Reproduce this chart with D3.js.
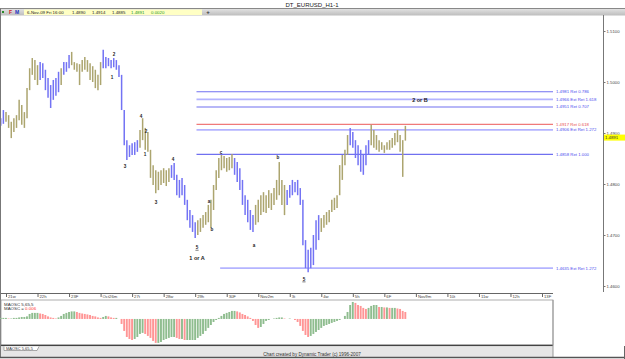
<!DOCTYPE html>
<html><head><meta charset="utf-8">
<script src="https://cdn.jsdelivr.net/npm/d3@7"></script>
<style>
body{margin:0;background:#fff}
svg{display:block}
text{font-family:"Liberation Sans",Arial,sans-serif}
</style>
</head><body><svg id="c" width="625" height="359"></svg>
<script>
// ---------------- DATA ----------------
const chartTitle = "DT_EURUSD_H1-1";
const quoteFields = ["6-Nov-09 Fri 16:00","1.4890","1.4914","1.4885","1.4891","0.0020"];
const dayLabels = ["21w","22h","23F","Oct26m","27t","28w","29h","30F","Nov2m","3t","4w","5h","6F","Nov9m","10t","11w","12h","13F"];
const priceTicks = [1.46,1.47,1.48,1.49,1.50,1.51];
const lastPrice = 1.4891;
const barStartHour = -4, barStepHours = 2;   // trading hours since 21-Oct 00:00
const highs = [
1.4929,1.4945,1.4941,1.4935,1.4922,1.4929,1.4935,1.4965,1.4955,1.4941,
1.4988,1.5027,1.5047,1.5043,1.5033,1.5039,1.5037,1.5024,1.5008,1.4994,
1.5004,1.5008,1.5020,1.5027,1.5039,1.5039,1.5053,1.5059,1.5039,1.5037,
1.5035,1.5043,1.5049,1.5043,1.5037,1.5031,1.5024,1.5014,1.5039,1.5063,
1.5049,1.5047,1.5043,1.5047,1.5043,1.5033,1.5014,1.4945,1.4886,1.4876,
1.4880,1.4882,1.4886,1.4906,1.4929,1.4910,1.4902,1.4867,1.4837,1.4827,
1.4824,1.4827,1.4831,1.4827,1.4831,1.4837,1.4841,1.4818,1.4808,1.4812,
1.4798,1.4769,1.4749,1.4739,1.4725,1.4729,1.4733,1.4739,1.4745,1.4759,
1.4769,1.4798,1.4827,1.4851,1.4857,1.4855,1.4851,1.4853,1.4859,1.4851,
1.4843,1.4831,1.4808,1.4778,1.4769,1.4749,1.4739,1.4759,1.4769,1.4778,
1.4784,1.4778,1.4788,1.4782,1.4792,1.4808,1.4843,1.4808,1.4798,1.4788,
1.4798,1.4808,1.4804,1.4808,1.4792,1.4769,1.4690,1.4671,1.4675,1.4700,
1.4729,1.4739,1.4733,1.4739,1.4745,1.4749,1.4769,1.4773,1.4778,1.4837,
1.4857,1.4867,1.4896,1.4910,1.4902,1.4886,1.4876,1.4867,1.4857,1.4876,
1.4886,1.4916,1.4906,1.4896,1.4886,1.4882,1.4876,1.4882,1.4886,1.4890,
1.4900,1.4906,1.4896,1.4886,1.4914];
const lows = [
1.4914,1.4918,1.4922,1.4910,1.4890,1.4902,1.4910,1.4925,1.4916,1.4910,
1.4929,1.4984,1.5014,1.5004,1.4994,1.5004,1.5008,1.4984,1.4969,1.4949,
1.4965,1.4973,1.4980,1.4994,1.5014,1.5020,1.5027,1.5033,1.5024,1.5020,
1.4994,1.5020,1.5024,1.5020,1.5004,1.5000,1.4988,1.4984,1.4994,1.5027,
1.5027,1.5031,1.5027,1.5029,1.5024,1.5010,1.4945,1.4876,1.4847,1.4853,
1.4857,1.4857,1.4863,1.4871,1.4886,1.4867,1.4863,1.4812,1.4798,1.4782,
1.4788,1.4798,1.4802,1.4796,1.4804,1.4812,1.4808,1.4778,1.4773,1.4778,
1.4759,1.4729,1.4714,1.4706,1.4694,1.4700,1.4706,1.4714,1.4720,1.4725,
1.4714,1.4749,1.4788,1.4812,1.4827,1.4831,1.4824,1.4827,1.4831,1.4818,
1.4804,1.4788,1.4759,1.4739,1.4725,1.4710,1.4706,1.4720,1.4725,1.4739,
1.4745,1.4743,1.4753,1.4749,1.4759,1.4769,1.4778,1.4759,1.4739,1.4759,
1.4773,1.4778,1.4784,1.4778,1.4759,1.4680,1.4635,1.4627,1.4635,1.4641,
1.4671,1.4690,1.4706,1.4714,1.4720,1.4725,1.4745,1.4749,1.4753,1.4778,
1.4808,1.4837,1.4857,1.4876,1.4871,1.4851,1.4837,1.4824,1.4818,1.4837,
1.4857,1.4876,1.4871,1.4867,1.4863,1.4867,1.4861,1.4867,1.4867,1.4871,
1.4876,1.4882,1.4863,1.4814,1.4885];
// trend of each bar: B = down-trend (blue), O = up-trend (olive), as runs
const trendRuns = [["B",2],["O",13],["B",8],["O",1],["B",3],["O",12],["B",14],["O",12],
  ["B",10],["O",14],["B",8],["O",12],["B",13],["O",11],["B",8],["O",14]];
const oscName = "MAOSC 5,65,5";
const oscLast = "0.006";
const oscValues = [
0.0009,0.0009,0.0009,0.0004,0.0004,0.0009,0.0009,0.0013,0.0017,0.0017,
0.0022,0.0043,0.0052,0.0052,0.0052,0.0047,0.0043,0.0034,0.0022,0.0013,
0.0009,0.0004,0.0013,0.0026,0.0043,0.0052,0.0060,0.0065,0.0065,0.0060,
0.0052,0.0047,0.0043,0.0039,0.0034,0.0026,0.0022,0.0013,0.0009,0.0017,
0.0026,0.0022,0.0013,0.0009,0.0009,0.0000,-0.0043,-0.0103,-0.0155,-0.0172,
-0.0181,-0.0172,-0.0155,-0.0129,-0.0120,-0.0129,-0.0146,-0.0163,-0.0189,-0.0206,
-0.0206,-0.0198,-0.0181,-0.0172,-0.0163,-0.0155,-0.0155,-0.0163,-0.0172,-0.0172,
-0.0181,-0.0181,-0.0181,-0.0181,-0.0181,-0.0163,-0.0146,-0.0129,-0.0103,-0.0077,
-0.0052,-0.0026,-0.0009,0.0009,0.0026,0.0043,0.0052,0.0060,0.0069,0.0069,
0.0065,0.0056,0.0043,0.0034,0.0022,0.0009,-0.0017,-0.0052,-0.0077,-0.0069,
-0.0043,-0.0017,-0.0009,0.0000,0.0004,0.0009,0.0013,0.0013,0.0004,0.0000,
0.0004,0.0000,-0.0009,-0.0026,-0.0060,-0.0103,-0.0138,-0.0155,-0.0146,-0.0129,
-0.0112,-0.0095,-0.0077,-0.0060,-0.0052,-0.0043,-0.0034,-0.0026,-0.0017,-0.0009,
0.0000,0.0026,0.0060,0.0120,0.0146,0.0138,0.0120,0.0112,0.0095,0.0086,
0.0095,0.0112,0.0120,0.0120,0.0103,0.0103,0.0099,0.0099,0.0095,0.0095,
0.0095,0.0090,0.0086,0.0069,0.0060];
const levelPrices = [1.4981,1.4966,1.4951,1.4917,1.4906,1.4858,1.4635];
const levelNames  = ["Ret 0.786","Ext Ret 1.618","Ret 0.707","Ret 0.618","Ext Ret 1.272","Ret 1.000","Ext Ret 1.272"];
const levelStartHour = [145,145,145,145,145,145,163];
const waveText  = ["1","2","3","4","1","2","3","4","5","a","b","c","a","b","5","1 or A","2 or B"];
const waveHour  = [80.7,82.2,90.6,102.8,105.8,106.6,114.2,127.1,145.4,154.5,156.8,163.6,188.8,207,226.8,145.4,315.1];
const wavePrice = [1.5010,1.5055,1.4835,1.4933,1.4859,1.4904,1.4765,1.4849,1.4676,1.4767,1.4712,1.4863,1.4680,1.4853,1.4614,1.4655,1.4965];

// ---------------- LAYOUT ----------------
const W = 625, H = 359;
const plotTop = 16, plotBottom = 292, axisX = 603, timeRight = 553;
const svg = d3.select("#c");

const x = d3.scaleLinear().domain([0, 17*24]).range([6, 542]);
const y = d3.scaleLinear().domain([1.46, 1.51]).range([286, 31]);
const yo = d3.scaleLinear().domain([-0.0224, 0.0163]).range([345, 300]);

const trend = trendRuns.flatMap(([c,n]) => Array(n).fill(c));
const bars = highs.map((h,i) => ({t: barStartHour + i*barStepHours, h, l: lows[i], c: trend[i]}));
const colors = {B:"#7373f4", O:"#aca56f"};

// window frame / header
svg.append("rect").attr("width",W).attr("height",H).attr("fill","#fff");
svg.append("text").attr("x",312).attr("y",6.5).attr("text-anchor","middle")
  .attr("font-size",6).attr("fill","#222").text(chartTitle);
const tb = svg.append("defs").append("linearGradient").attr("id","tbg").attr("x1",0).attr("x2",0).attr("y1",0).attr("y2",1);
tb.append("stop").attr("offset",0).attr("stop-color","#e4e4e4");
tb.append("stop").attr("offset",1).attr("stop-color","#bdbdbd");
svg.append("rect").attr("x",0).attr("y",8.5).attr("width",W).attr("height",7).attr("fill","url(#tbg)");
svg.append("line").attr("x1",0).attr("x2",W).attr("y1",8.5).attr("y2",8.5).attr("stroke","#888");
svg.append("rect").attr("x",2).attr("y",11).attr("width",2).attr("height",2).attr("fill","#2a8a2a");
svg.append("text").attr("x",9).attr("y",14).attr("font-size",5).attr("font-weight","bold").attr("fill","#d02020").text("F");
svg.append("text").attr("x",15).attr("y",14).attr("font-size",5).attr("font-weight","bold").attr("fill","#2030c0").text("M");
svg.append("rect").attr("x",24).attr("y",9.5).attr("width",178).attr("height",5.5).attr("fill","#ffffc4");
const qx = [27,72,92,112,131,151];
quoteFields.forEach((q,i) => svg.append("text").attr("x",qx[i]).attr("y",14).attr("font-size",4.4)
  .attr("fill", i>=4 ? "#1f9a1f" : "#222").text(q));
svg.append("text").attr("x",208).attr("y",14.3).attr("font-size",6).attr("font-weight","bold")
  .attr("text-anchor","middle").attr("fill","#333").text("+");
svg.append("line").attr("x1",0.5).attr("x2",0.5).attr("y1",8.5).attr("y2",357).attr("stroke","#777");

// price plot
const clip = svg.append("defs").append("clipPath").attr("id","pc");
clip.append("rect").attr("x",1).attr("y",plotTop).attr("width",axisX-1).attr("height",plotBottom-plotTop);
const g = svg.append("g").attr("clip-path","url(#pc)");

// levels
const levelStroke = (i) => levelNames[i]==="Ret 0.618" ? "#f07a7a" : (levelNames[i].startsWith("Ext") ? "#b4b4ff" : "#7070f0");
const levelText = (i) => levelNames[i]==="Ret 0.618" ? "#e85050" : "#4b4bee";
levelPrices.forEach((p,i) => {
  g.append("line").attr("x1",x(levelStartHour[i])).attr("x2",timeRight)
    .attr("y1",y(p)).attr("y2",y(p)).attr("stroke",levelStroke(i))
    .attr("stroke-width", levelNames[i].startsWith("Ext") ? 1.8 : 1.1);
  g.append("text").attr("x",556).attr("y",y(p)+1.5).attr("font-size",4.3)
    .attr("fill",levelText(i)).text(d3.format(".4f")(p)+" "+levelNames[i]);
});

// price bars
g.selectAll(".bar").data(bars).join("line").attr("class","bar")
  .attr("x1",d=>x(d.t)).attr("x2",d=>x(d.t))
  .attr("y1",d=>y(d.h)).attr("y2",d=>y(d.l))
  .attr("stroke",d=>colors[d.c]).attr("stroke-width",1.5);

// wave labels
waveText.forEach((s,i) => {
  const big = s.length > 1;
  g.append("text").attr("x",x(waveHour[i])).attr("y",y(wavePrice[i])+2)
    .attr("text-anchor","middle").attr("font-size", big ? 5.5 : 4.6).attr("font-weight","bold")
    .attr("fill","#222").text(s);
  if (s === "5") g.append("line").attr("x1",x(waveHour[i])-1.6).attr("x2",x(waveHour[i])+1.6)
    .attr("y1",y(wavePrice[i])+3).attr("y2",y(wavePrice[i])+3).attr("stroke","#222").attr("stroke-width",0.6);
});

// right price axis
svg.append("line").attr("x1",axisX+0.5).attr("x2",axisX+0.5).attr("y1",plotTop-1).attr("y2",plotBottom)
  .attr("stroke","#777");
const ya = svg.append("g").attr("transform",`translate(${axisX+0.5},0)`)
  .call(d3.axisRight(y).tickValues(priceTicks).tickSize(2).tickPadding(1).tickFormat(d3.format(".4f")));
ya.select(".domain").remove();
ya.selectAll("text").attr("font-size",4.3).attr("fill","#444").attr("font-family","Liberation Sans, Arial");
ya.selectAll("line").attr("stroke","#777");
svg.append("rect").attr("x",axisX+1).attr("y",y(lastPrice)-3).attr("width",21).attr("height",6).attr("fill","#ffff00");
svg.append("text").attr("x",axisX+2).attr("y",y(lastPrice)+1.6).attr("font-size",4.3).attr("fill","#333")
  .text(d3.format(".4f")(lastPrice));

// time axis
svg.append("line").attr("x1",1).attr("x2",timeRight).attr("y1",293.5).attr("y2",293.5).attr("stroke","#666");
const xa = svg.append("g").attr("transform","translate(0,293.5)")
  .call(d3.axisBottom(x).tickValues(d3.range(dayLabels.length).map(i=>i*24)).tickSize(3.5)
        .tickFormat((d,i)=>dayLabels[i]));
xa.select(".domain").remove();
xa.selectAll("line").attr("stroke","#666");
xa.selectAll("text").attr("font-size",4.2).attr("fill","#444").attr("text-anchor","start")
  .attr("x",1.5).attr("y",1).attr("dy","3.6").attr("font-family","Liberation Sans, Arial");

// oscillator panel
svg.append("rect").attr("x",1).attr("y",300).attr("width",timeRight-1).attr("height",45)
  .attr("fill","#fff").attr("stroke","#9a9a9a").attr("stroke-width",0.8);
const og = svg.append("g");
og.selectAll(".ob").data(oscValues).join("rect").attr("class","ob")
  .attr("x",(d,i)=>x(barStartHour+i*barStepHours)-1)
  .attr("width",1.9)
  .attr("y",d=>Math.min(yo(d),yo(0)))
  .attr("height",d=>Math.abs(yo(d)-yo(0)))
  .attr("fill",(d,i)=> (i===0 || d>=oscValues[i-1]) ? "#8fbd8f" : "#ff9595");
svg.append("text").attr("x",4).attr("y",305.5).attr("font-size",4.4).attr("fill","#333").text(oscName);
const t2 = svg.append("text").attr("x",4).attr("y",310).attr("font-size",4.4).attr("fill","#333");
t2.append("tspan").text("MAOSC = ");
t2.append("tspan").attr("fill","#ff3030").text(oscLast);
svg.append("line").attr("x1",1).attr("x2",timeRight).attr("y1",345.5).attr("y2",345.5).attr("stroke","#444").attr("stroke-width",1.5);

// tab + footer
svg.append("rect").attr("x",1).attr("y",346.5).attr("width",timeRight-1).attr("height",10.5).attr("fill","#e6e6e6");
svg.append("path").attr("d","M4,346.5 L4,350.5 L37,350.5 L39,346.5").attr("fill","#fff").attr("stroke","#777").attr("stroke-width",0.6);
svg.append("text").attr("x",6).attr("y",349.8).attr("font-size",4).attr("fill","#333").text(oscName);
svg.append("text").attr("x",312).attr("y",355.5).attr("text-anchor","middle").attr("font-size",4.6)
  .attr("fill","#333").text("Chart created by Dynamic Trader  (c) 1996-2007");
svg.append("line").attr("x1",timeRight).attr("x2",timeRight).attr("y1",300).attr("y2",357).attr("stroke","#999");
svg.append("line").attr("x1",0).attr("x2",W).attr("y1",357.5).attr("y2",357.5).attr("stroke","#555").attr("stroke-width",1.5);
svg.append("line").attr("x1",624.5).attr("x2",624.5).attr("y1",346).attr("y2",359).attr("stroke","#666");
</script>
</body></html>
